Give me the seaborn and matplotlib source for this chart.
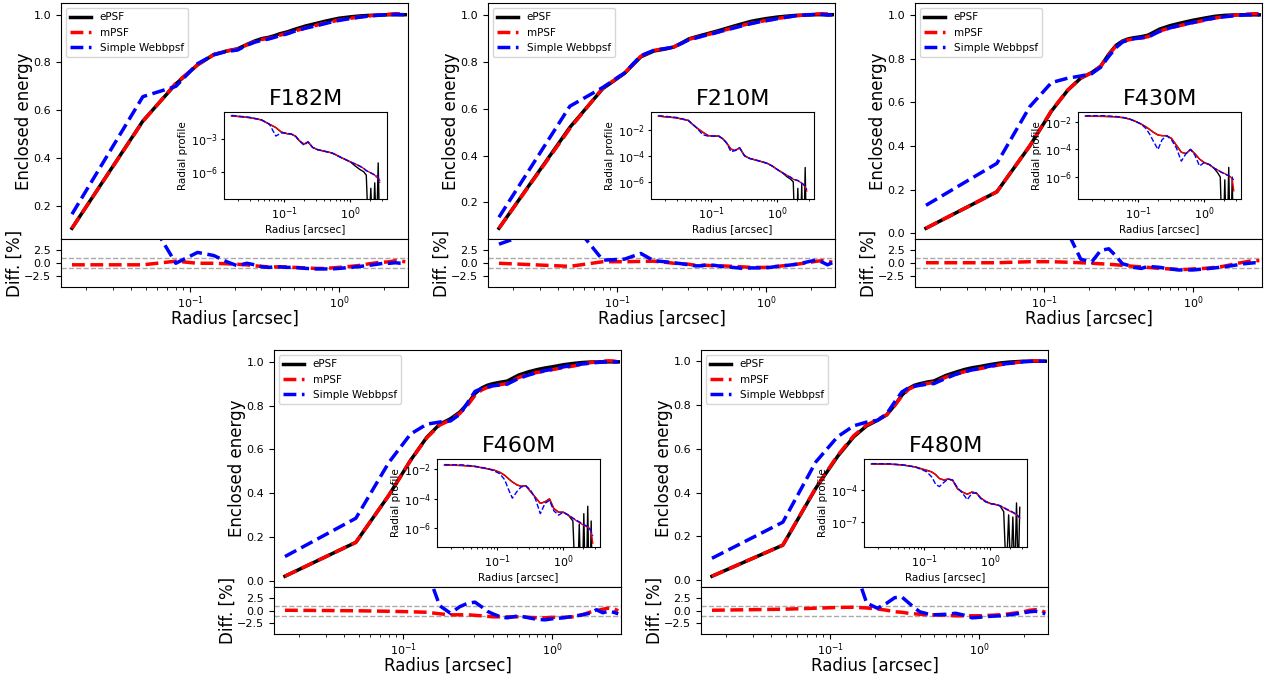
import matplotlib
matplotlib.use("Agg")
import matplotlib.pyplot as plt
from matplotlib.ticker import NullLocator
import seaborn as sns

filters = ["F182M", "F210M", "F430M", "F460M", "F480M"]

# radii of the enclosed energy / difference curves [arcsec]
radius = [0.016, 0.048, 0.080, 0.112, 0.144, 0.176, 0.208, 0.240, 0.272, 0.304,
          0.336, 0.368, 0.400, 0.45, 0.5, 0.6, 0.7, 0.8, 0.9, 1.0,
          1.2, 1.4, 1.6, 1.8, 2.0, 2.2, 2.4, 2.6, 2.8]

# radii of the radial profiles (insets)
rp_radius = [0.016, 0.03, 0.045, 0.06, 0.075, 0.09, 0.11, 0.13, 0.15, 0.17,
             0.2, 0.23, 0.27, 0.32, 0.38, 0.45, 0.53, 0.62, 0.72, 0.85,
             1.0, 1.2, 1.4, 1.6, 1.75, 1.9, 2.05, 2.2, 2.35, 2.5, 2.65, 2.8]

# ---- F182M
ee_epsf_182 = [0.106, 0.555, 0.71, 0.79, 0.833, 0.848, 0.857, 0.875, 0.89, 0.90, 0.905, 0.912, 0.92, 0.928, 0.938,
               0.953, 0.963, 0.972, 0.979, 0.985, 0.991, 0.995, 0.997, 0.998, 0.999, 1.0, 1.0, 1.0, 1.0]
ee_mpsf_182 = [0.106, 0.553, 0.713, 0.79, 0.833, 0.848, 0.856, 0.873, 0.887, 0.896, 0.901, 0.907, 0.914, 0.922, 0.931,
               0.945, 0.955, 0.964, 0.971, 0.978, 0.985, 0.991, 0.995, 0.998, 1.0, 1.002, 1.004, 1.004, 1.003]
ee_webb_182 = [0.165, 0.657, 0.70, 0.795, 0.832, 0.846, 0.852, 0.872, 0.885, 0.893, 0.898, 0.905, 0.912, 0.92, 0.93,
               0.944, 0.953, 0.962, 0.97, 0.976, 0.984, 0.99, 0.994, 0.997, 0.999, 1.0, 1.001, 1.0, 1.0]
diff_mpsf_182 = [-0.3, -0.3, 0.4, 0.0, 0.0, -0.1, -0.2, -0.3, -0.5, -0.6, -0.7, -0.7, -0.7, -0.7, -0.8,
                 -0.9, -1.0, -1.0, -0.9, -0.8, -0.6, -0.4, -0.1, 0.1, 0.2, 0.3, 0.5, 0.4, 0.3]
diff_webb_182 = [20, 10.6, 0.0, 2.1, 1.5, 0.3, -0.5, 0.0, -0.3, -0.7, -0.8, -0.7, -0.7, -0.8, -0.8,
                 -1.0, -1.1, -1.1, -1.1, -1.0, -0.8, -0.6, -0.4, -0.2, 0.0, 0.0, 0.1, 0.0, 0.0]
rp_epsf_182 = [1.15e-1, 7.9e-2, 5.0e-2, 2.0e-2, 1.0e-2, 4.0e-3, 2.8e-3, 2.5e-3, 1.6e-3, 6.3e-4, 3.2e-4, 5.0e-4,
               1.6e-4, 1.0e-4, 7.9e-5, 6.3e-5, 5.0e-5, 3.2e-5, 2.0e-5, 1.26e-5, 7.9e-6, 3.2e-6, 1.6e-6, 1.0e-6,
               5.0e-7, 1e-12, 3.2e-8, 1e-12, 1.0e-7, 1e-12, 6.3e-6, 1e-12]
rp_mpsf_182 = [1.15e-1, 7.9e-2, 5.0e-2, 2.0e-2, 1.0e-2, 4.0e-3, 2.8e-3, 2.5e-3, 1.6e-3, 6.3e-4, 3.2e-4, 5.0e-4,
               1.6e-4, 1.0e-4, 7.9e-5, 6.3e-5, 5.0e-5, 3.2e-5, 2.0e-5, 1.26e-5, 7.9e-6, 5.0e-6, 3.2e-6, 2.0e-6,
               1.26e-6, 1.0e-6, 7.9e-7, 6.3e-7, 5.0e-7, 3.2e-7, 2.5e-7, 1.6e-7]
rp_webb_182 = [1.26e-1, 8.5e-2, 5.2e-2, 2.0e-2, 1.7e-3, 3.2e-3, 3.2e-3, 2.5e-3, 1.6e-3, 6.3e-4, 2.5e-4, 5.0e-4,
               1.6e-4, 1.0e-4, 7.9e-5, 6.3e-5, 5.0e-5, 3.2e-5, 2.0e-5, 1.26e-5, 7.9e-6, 5.0e-6, 3.2e-6, 2.0e-6,
               1.26e-6, 1.0e-6, 7.9e-7, 6.3e-7, 5.0e-7, 5.0e-7, 3.2e-7, 1.0e-7]

# ---- F210M
ee_epsf_210 = [0.09, 0.52, 0.685, 0.75, 0.82, 0.845, 0.853, 0.862, 0.88, 0.897, 0.905, 0.912, 0.918, 0.927, 0.935,
               0.95, 0.962, 0.972, 0.978, 0.983, 0.99, 0.994, 0.997, 0.998, 0.999, 1.0, 1.0, 1.0, 1.0]
ee_mpsf_210 = [0.09, 0.515, 0.688, 0.752, 0.823, 0.848, 0.855, 0.862, 0.879, 0.895, 0.902, 0.908, 0.914, 0.922, 0.93,
               0.944, 0.955, 0.964, 0.97, 0.975, 0.984, 0.99, 0.995, 0.998, 1.001, 1.003, 1.004, 1.003, 1.002]
ee_webb_210 = [0.137, 0.61, 0.69, 0.752, 0.825, 0.848, 0.855, 0.862, 0.878, 0.893, 0.9, 0.907, 0.913, 0.921, 0.929,
               0.942, 0.953, 0.962, 0.969, 0.974, 0.983, 0.99, 0.995, 0.998, 1.0, 1.002, 1.001, 0.998, 0.999]
diff_mpsf_210 = [0.0, -0.6, 0.3, 0.3, 0.35, 0.4, 0.2, 0.0, -0.1, -0.2, -0.4, -0.4, -0.4, -0.5, -0.5,
                 -0.6, -0.7, -0.8, -0.8, -0.8, -0.6, -0.4, -0.2, 0.0, 0.2, 0.4, 0.5, 0.4, 0.2]
diff_webb_210 = [3.7, 8.5, 0.6, 0.8, 1.9, 0.5, 0.3, 0.1, -0.1, -0.3, -0.5, -0.5, -0.3, -0.4, -0.6,
                 -0.8, -1.0, -0.9, -0.9, -0.9, -0.6, -0.4, -0.2, 0.1, 0.4, 0.6, 0.2, -0.3, 0.1]
rp_epsf_210 = [1.07e-1, 7.9e-2, 5.0e-2, 1.41e-2, 6.3e-3, 3.5e-3, 3.2e-3, 3.2e-3, 2.0e-3, 1.0e-3, 3.2e-4, 2.5e-4,
               4.0e-4, 1.0e-4, 6.3e-5, 5.0e-5, 4.0e-5, 3.2e-5, 2.5e-5, 1.58e-5, 8.9e-6, 5.0e-6, 2.5e-6, 1.58e-6,
               1.0e-6, 1e-12, 3.2e-7, 1e-12, 6.3e-7, 1e-12, 1.26e-5, 1e-12]
rp_mpsf_210 = [1.07e-1, 7.9e-2, 5.0e-2, 1.41e-2, 6.3e-3, 3.5e-3, 3.2e-3, 3.2e-3, 2.0e-3, 1.0e-3, 3.2e-4, 2.5e-4,
               4.0e-4, 1.0e-4, 6.3e-5, 5.0e-5, 4.0e-5, 3.2e-5, 2.5e-5, 1.58e-5, 8.9e-6, 5.0e-6, 3.2e-6, 2.24e-6,
               1.58e-6, 1.41e-6, 1.26e-6, 1.0e-6, 7.9e-7, 6.3e-7, 4.0e-7, 2.0e-7]
rp_webb_210 = [1.17e-1, 8.5e-2, 5.2e-2, 1.41e-2, 4.0e-3, 3.2e-3, 3.2e-3, 3.2e-3, 2.0e-3, 1.0e-3, 2.0e-4, 2.5e-4,
               4.0e-4, 1.0e-4, 6.3e-5, 5.0e-5, 4.0e-5, 3.2e-5, 2.5e-5, 1.58e-5, 8.9e-6, 5.0e-6, 3.2e-6, 2.24e-6,
               1.58e-6, 1.41e-6, 1.26e-6, 1.0e-6, 7.9e-7, 6.3e-7, 4.5e-7, 2.5e-7]

# ---- F430M
ee_epsf_430 = [0.023, 0.19, 0.40, 0.56, 0.655, 0.71, 0.735, 0.765, 0.82, 0.86, 0.88, 0.89, 0.895, 0.90, 0.907,
               0.935, 0.95, 0.96, 0.968, 0.975, 0.985, 0.993, 0.997, 0.999, 1.0, 1.0, 1.0, 1.0, 1.0]
ee_mpsf_430 = [0.023, 0.19, 0.401, 0.562, 0.656, 0.71, 0.735, 0.764, 0.818, 0.857, 0.877, 0.885, 0.89, 0.894, 0.9,
               0.926, 0.94, 0.949, 0.957, 0.964, 0.975, 0.985, 0.991, 0.996, 1.0, 1.002, 1.004, 1.005, 1.005]
ee_webb_430 = [0.128, 0.32, 0.58, 0.69, 0.71, 0.72, 0.73, 0.76, 0.81, 0.85, 0.875, 0.885, 0.89, 0.895, 0.898,
               0.925, 0.94, 0.95, 0.958, 0.965, 0.977, 0.985, 0.99, 0.994, 0.997, 0.999, 1.0, 1.0, 1.0]
diff_mpsf_430 = [0.1, 0.1, 0.3, 0.3, 0.2, 0.1, 0.0, -0.1, -0.2, -0.3, -0.4, -0.5, -0.6, -0.7, -0.8,
                 -1.0, -1.1, -1.2, -1.2, -1.1, -1.0, -0.8, -0.6, -0.3, 0.0, 0.2, 0.4, 0.5, 0.5]
diff_webb_430 = [20, 30, 25, 12, 6.0, 0.8, 0.2, 2.5, 2.8, 1.4, -0.1, -0.4, -0.8, -1.0, -0.6,
                 -0.8, -1.1, -1.3, -1.3, -1.3, -1.1, -0.9, -0.7, -0.5, -0.3, -0.1, 0.0, 0.1, 0.0]
rp_epsf_430 = [2.57e-2, 2.5e-2, 2.34e-2, 2.0e-2, 1.58e-2, 1.12e-2, 7.1e-3, 4.5e-3, 2.8e-3, 1.78e-3, 1.12e-3, 1.0e-3,
               1.0e-3, 6.3e-4, 2.0e-4, 6.3e-5, 5.0e-5, 1.0e-4, 5.0e-5, 2.0e-5, 1.12e-5, 7.9e-6, 4.5e-6, 2.0e-6,
               1.0e-6, 1e-12, 6.3e-7, 1e-12, 5.0e-6, 1e-12, 1.0e-6, 1e-12]
rp_mpsf_430 = [2.57e-2, 2.5e-2, 2.34e-2, 2.0e-2, 1.58e-2, 1.12e-2, 7.1e-3, 4.5e-3, 2.8e-3, 1.78e-3, 1.12e-3, 1.0e-3,
               1.0e-3, 6.3e-4, 2.0e-4, 6.3e-5, 5.0e-5, 1.0e-4, 5.0e-5, 2.0e-5, 1.12e-5, 7.9e-6, 4.5e-6, 3.2e-6,
               2.5e-6, 2.0e-6, 1.78e-6, 1.41e-6, 1.26e-6, 1.0e-6, 7.9e-7, 1.0e-7]
rp_webb_430 = [2.8e-2, 2.8e-2, 2.5e-2, 2.1e-2, 1.58e-2, 1.12e-2, 7.1e-3, 3.5e-3, 1.26e-3, 4.0e-4, 1.0e-4, 5.0e-4,
               1.0e-3, 5.0e-4, 1.26e-4, 1.41e-5, 5.0e-5, 1.0e-4, 4.0e-5, 6.3e-6, 1.12e-5, 7.9e-6, 4.5e-6, 3.2e-6,
               2.5e-6, 2.0e-6, 1.78e-6, 1.41e-6, 1.26e-6, 1.0e-6, 7.9e-7, 6.3e-7]

# ---- F460M
ee_epsf_460 = [0.02, 0.175, 0.39, 0.55, 0.655, 0.715, 0.74, 0.77, 0.81, 0.855, 0.88, 0.893, 0.90, 0.907, 0.912,
               0.94, 0.955, 0.965, 0.972, 0.977, 0.987, 0.993, 0.997, 0.999, 1.0, 1.0, 1.0, 1.0, 1.0]
ee_mpsf_460 = [0.02, 0.175, 0.39, 0.549, 0.653, 0.711, 0.734, 0.764, 0.803, 0.847, 0.871, 0.883, 0.889, 0.896, 0.901,
               0.929, 0.943, 0.952, 0.958, 0.964, 0.974, 0.981, 0.989, 0.996, 1.0, 1.003, 1.005, 1.004, 1.0]
ee_webb_460 = [0.11, 0.285, 0.54, 0.67, 0.715, 0.725, 0.73, 0.76, 0.815, 0.865, 0.878, 0.885, 0.89, 0.895, 0.898,
               0.925, 0.94, 0.952, 0.96, 0.966, 0.977, 0.985, 0.99, 0.994, 0.997, 0.999, 1.0, 1.0, 1.0]
diff_mpsf_460 = [0.1, 0.0, -0.1, -0.2, -0.3, -0.6, -0.8, -0.8, -0.8, -0.9, -1.0, -1.1, -1.2, -1.2, -1.2,
                 -1.2, -1.3, -1.4, -1.4, -1.3, -1.3, -1.2, -0.8, -0.3, 0.0, 0.3, 0.5, 0.4, 0.0]
diff_webb_460 = [20, 30, 30, 20, 8, 1.0, -0.5, 0.8, 1.5, 1.7, 0.8, -0.1, -0.6, -1.2, -1.4,
                 -1.0, -1.4, -1.7, -1.8, -1.6, -1.4, -1.1, -0.8, -0.5, 0.2, -0.4, -0.1, -0.3, -0.6]
rp_epsf_460 = [1.95e-2, 1.82e-2, 1.58e-2, 1.26e-2, 1.05e-2, 8.9e-3, 6.3e-3, 4.0e-3, 2.24e-3, 1.41e-3, 8.9e-4, 7.1e-4,
               7.9e-4, 3.2e-4, 1.26e-4, 5.0e-5, 6.3e-5, 1.0e-4, 2.24e-5, 1.26e-5, 1.26e-5, 7.9e-6, 3.2e-6, 1e-12,
               2.0e-6, 1e-12, 1.0e-5, 1e-12, 3.2e-5, 1e-12, 3.2e-6, 1e-12]
rp_mpsf_460 = [1.95e-2, 1.82e-2, 1.58e-2, 1.26e-2, 1.05e-2, 8.9e-3, 6.3e-3, 4.0e-3, 2.24e-3, 1.41e-3, 8.9e-4, 7.1e-4,
               7.9e-4, 3.2e-4, 1.26e-4, 5.0e-5, 6.3e-5, 1.0e-4, 2.24e-5, 1.26e-5, 1.26e-5, 7.9e-6, 5.0e-6, 3.2e-6,
               2.5e-6, 2.0e-6, 1.58e-6, 1.41e-6, 1.26e-6, 1.0e-6, 6.3e-7, 1.0e-7]
rp_webb_460 = [2.1e-2, 2.0e-2, 1.66e-2, 1.32e-2, 1.05e-2, 7.9e-3, 5.0e-3, 2.0e-3, 4.0e-4, 1.12e-4, 3.2e-4, 6.3e-4,
               7.9e-4, 4.0e-4, 1.0e-4, 1.0e-5, 5.0e-5, 7.9e-5, 1.58e-5, 7.9e-6, 1.26e-5, 7.9e-6, 5.0e-6, 3.5e-6,
               2.8e-6, 2.24e-6, 1.78e-6, 1.58e-6, 1.26e-6, 1.0e-6, 6.3e-7, 3.2e-7]

# ---- F480M
ee_epsf_480 = [0.018, 0.16, 0.42, 0.565, 0.655, 0.705, 0.73, 0.755, 0.80, 0.845, 0.875, 0.89, 0.897, 0.905, 0.91,
               0.935, 0.95, 0.962, 0.97, 0.975, 0.985, 0.992, 0.996, 0.998, 1.0, 1.0, 1.0, 1.0, 1.0]
ee_mpsf_480 = [0.018, 0.16, 0.422, 0.569, 0.66, 0.709, 0.733, 0.756, 0.798, 0.842, 0.871, 0.885, 0.891, 0.898, 0.903,
               0.927, 0.941, 0.952, 0.96, 0.965, 0.976, 0.984, 0.99, 0.994, 0.998, 1.001, 1.002, 1.0, 0.997]
ee_webb_480 = [0.10, 0.265, 0.54, 0.655, 0.705, 0.722, 0.73, 0.76, 0.815, 0.86, 0.878, 0.885, 0.89, 0.895, 0.898,
               0.922, 0.94, 0.952, 0.96, 0.967, 0.978, 0.986, 0.99, 0.994, 0.997, 0.999, 1.0, 1.0, 1.0]
diff_mpsf_480 = [0.1, 0.3, 0.5, 0.65, 0.7, 0.55, 0.35, 0.1, -0.2, -0.3, -0.5, -0.6, -0.7, -0.8, -0.8,
                 -0.9, -1.0, -1.0, -1.0, -1.0, -0.9, -0.8, -0.6, -0.4, -0.2, 0.1, 0.2, 0.0, -0.3]
diff_webb_480 = [20, 30, 30, 20, 9, 1.5, 0.5, 1.5, 2.6, 2.7, 1.6, 0.6, -0.2, -0.6, -0.8,
                 -0.7, -0.5, -0.9, -1.4, -1.3, -1.1, -1.0, -0.8, -0.6, -0.4, -0.2, -0.1, -0.3, -0.6]
rp_epsf_480 = [2.4e-2, 2.3e-2, 2.0e-2, 1.58e-2, 1.26e-2, 8.9e-3, 6.3e-3, 4.5e-3, 2.5e-3, 1.12e-3, 7.9e-4, 1.0e-3,
               7.9e-4, 1.26e-4, 6.3e-5, 4.0e-5, 6.3e-5, 5.0e-5, 1.78e-5, 8.9e-6, 5.6e-6, 4.5e-6, 3.5e-6, 1.0e-6,
               1e-12, 5.0e-7, 1e-12, 3.2e-7, 1e-12, 6.3e-6, 1e-12, 2.5e-6]
rp_mpsf_480 = [2.4e-2, 2.3e-2, 2.0e-2, 1.58e-2, 1.26e-2, 8.9e-3, 6.3e-3, 4.5e-3, 2.5e-3, 1.12e-3, 7.9e-4, 1.0e-3,
               7.9e-4, 1.26e-4, 6.3e-5, 4.0e-5, 6.3e-5, 5.0e-5, 1.78e-5, 8.9e-6, 5.6e-6, 4.5e-6, 3.5e-6, 2.24e-6,
               1.58e-6, 1.26e-6, 1.0e-6, 7.9e-7, 6.3e-7, 5.0e-7, 3.5e-7, 2.5e-7]
rp_webb_480 = [2.6e-2, 2.5e-2, 2.1e-2, 1.58e-2, 1.2e-2, 7.9e-3, 4.5e-3, 1.58e-3, 3.2e-4, 2.0e-4, 5.0e-4, 1.0e-3,
               7.9e-4, 1.58e-4, 5.0e-5, 1.26e-5, 5.0e-5, 5.0e-5, 1.58e-5, 7.9e-6, 5.6e-6, 4.5e-6, 3.5e-6, 2.5e-6,
               1.78e-6, 1.41e-6, 1.12e-6, 8.9e-7, 7.1e-7, 5.6e-7, 4.0e-7, 2.8e-7]

panels = [
    (ee_epsf_182, ee_mpsf_182, ee_webb_182, diff_mpsf_182, diff_webb_182, rp_epsf_182, rp_mpsf_182, rp_webb_182),
    (ee_epsf_210, ee_mpsf_210, ee_webb_210, diff_mpsf_210, diff_webb_210, rp_epsf_210, rp_mpsf_210, rp_webb_210),
    (ee_epsf_430, ee_mpsf_430, ee_webb_430, diff_mpsf_430, diff_webb_430, rp_epsf_430, rp_mpsf_430, rp_webb_430),
    (ee_epsf_460, ee_mpsf_460, ee_webb_460, diff_mpsf_460, diff_webb_460, rp_epsf_460, rp_mpsf_460, rp_webb_460),
    (ee_epsf_480, ee_mpsf_480, ee_webb_480, diff_mpsf_480, diff_webb_480, rp_epsf_480, rp_mpsf_480, rp_webb_480),
]

# inset y ranges and ticks
rp_ylims = [(3.5e-9, 2.8e-1), (5.0e-8, 2.4e-1), (2.6e-8, 5.6e-2), (5.8e-8, 5.0e-2), (5.9e-10, 6.9e-2)]
rp_yticks = [[1e-3, 1e-6], [1e-2, 1e-4, 1e-6], [1e-2, 1e-4, 1e-6], [1e-2, 1e-4, 1e-6], [1e-4, 1e-7]]

W, H = 1269, 679
fig = plt.figure(figsize=(W / 100, H / 100), dpi=100)

# panel boxes in pixels: left, top, bottom of main axes, bottom of diff axes
boxes = [(61, 3, 239, 287), (488, 3, 239, 287), (915, 3, 239, 287),
         (274, 350, 587, 634), (701, 350, 587, 634)]
pw = 347

for name, data, box, ylim_rp, yt_rp in zip(filters, panels, boxes, rp_ylims, rp_yticks):
    ee_e, ee_m, ee_w, d_m, d_w, rp_e, rp_m, rp_w = data
    left, top, mid, bot = box
    ax = fig.add_axes([left / W, (H - mid) / H, pw / W, (mid - top) / H])
    axd = fig.add_axes([left / W, (H - bot) / H, pw / W, (bot - mid) / H], sharex=ax)
    ax.set_xscale("log")

    sns.lineplot(x=radius, y=ee_e, ax=ax, color="black", linewidth=2.5, label="ePSF")
    sns.lineplot(x=radius, y=ee_m, ax=ax, color="red", linewidth=2.5, linestyle="--", label="mPSF")
    sns.lineplot(x=radius, y=ee_w, ax=ax, color="blue", linewidth=2.5, linestyle="--", label="Simple Webbpsf")
    ax.legend(loc="upper left", fontsize=7.5)
    ax.set_ylabel("Enclosed energy", fontsize=12, labelpad=0.5)
    ax.set_xlabel("")
    ax.tick_params(labelbottom=False, labelsize=8)
    ax.text(0.705, 0.595, name, transform=ax.transAxes, fontsize=16, ha="center", va="center")

    # difference panel
    axd.axhline(1, color="darkgray", linestyle="--", linewidth=1)
    axd.axhline(-1, color="darkgray", linestyle="--", linewidth=1)
    sns.lineplot(x=radius, y=d_m, ax=axd, color="red", linewidth=2.5, linestyle="--")
    sns.lineplot(x=radius, y=d_w, ax=axd, color="blue", linewidth=2.5, linestyle="--")
    axd.set_ylim(-4.6, 4.7)
    axd.set_yticks([-2.5, 0, 2.5])
    axd.set_ylabel("Diff. [%]", fontsize=12, labelpad=0)
    axd.tick_params(labelsize=8)
    axd.tick_params(axis="x", which="major", pad=2)
    axd.set_xlabel("Radius [arcsec]", fontsize=12, labelpad=-1)
    ax.set_xlim(0.0135, 2.92)

    # radial profile inset
    ins = ax.inset_axes([0.47, 0.17, 0.47, 0.37])
    ins.set_xscale("log")
    ins.set_yscale("log")
    sns.lineplot(x=rp_radius, y=rp_e, ax=ins, color="black", linewidth=1)
    sns.lineplot(x=rp_radius, y=rp_m, ax=ins, color="red", linewidth=1)
    sns.lineplot(x=rp_radius, y=rp_w, ax=ins, color="blue", linewidth=1, linestyle="--")
    ins.set_ylim(*ylim_rp)
    ins.set_yticks(yt_rp)
    ins.yaxis.set_minor_locator(NullLocator())
    ins.set_xlabel("Radius [arcsec]", fontsize=7.5, labelpad=2)
    ins.set_ylabel("Radial profile", fontsize=7.5, labelpad=2)
    ins.tick_params(which="major", labelsize=8, length=2.5, pad=2)
    ins.tick_params(which="minor", length=1.5)

fig.savefig("out.png", dpi=100)
